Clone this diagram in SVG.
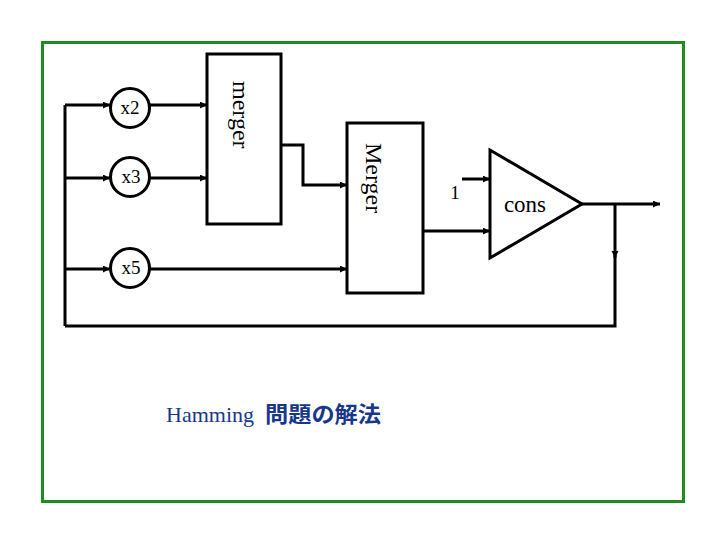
<svg xmlns="http://www.w3.org/2000/svg" width="720" height="540" viewBox="0 0 720 540">
<style>
.ln{fill:none;stroke:#000;stroke-width:3}
.box{fill:#fff;stroke:#000;stroke-width:3}
.t{font-family:"Liberation Serif","Times New Roman",serif;fill:#000}
</style>
<defs>
<marker id="ah" markerUnits="userSpaceOnUse" markerWidth="8" markerHeight="8" refX="7" refY="3.5" orient="auto">
<path d="M0,0 L7,3.5 L0,7 z" fill="#000"/>
</marker>
</defs>
<rect x="0" y="0" width="720" height="540" fill="#fff"/>
<rect x="42.5" y="42.5" width="641" height="459" fill="none" stroke="#1e8c1e" stroke-width="3"/>
<g id="connectors">
<path class="ln" d="M65,326 V105"/>
<path class="ln" d="M65,105 H110" marker-end="url(#ah)"/>
<path class="ln" d="M150,105 H207" marker-end="url(#ah)"/>
<path class="ln" d="M65,178 H110" marker-end="url(#ah)"/>
<path class="ln" d="M150,178 H207" marker-end="url(#ah)"/>
<path class="ln" d="M65,269 H110" marker-end="url(#ah)"/>
<path class="ln" d="M150,269 H347" marker-end="url(#ah)"/>
<path class="ln" d="M281,145 H303 V185 H347" marker-end="url(#ah)"/>
<path class="ln" d="M423,231 H490" marker-end="url(#ah)"/>
<path class="ln" d="M462,179 H490" marker-end="url(#ah)"/>
<path class="ln" d="M582,204 H660" marker-end="url(#ah)"/>
<path class="ln" d="M615,204 V258" marker-end="url(#ah)"/>
<path class="ln" d="M615,255 V326 H65"/>
</g>
<g id="x2">
<circle class="box" cx="130" cy="108" r="19.5"/>
<text class="t" x="130" y="114" font-size="19" text-anchor="middle">x2</text>
</g>
<g id="x3">
<circle class="box" cx="130" cy="177" r="19.5"/>
<text class="t" x="131" y="183" font-size="19" text-anchor="middle">x3</text>
</g>
<g id="x5">
<circle class="box" cx="130" cy="268" r="19.5"/>
<text class="t" x="131" y="274" font-size="19" text-anchor="middle">x5</text>
</g>
<g id="merger">
<rect class="box" x="207" y="54" width="74" height="170"/>
<text class="t" font-size="24" transform="translate(233,81) rotate(90)">merger</text>
</g>
<g id="Merger">
<rect class="box" x="347" y="123" width="76" height="170"/>
<text class="t" font-size="24" transform="translate(366,143) rotate(90)">Merger</text>
</g>
<g id="cons">
<polygon class="box" points="490,150 490,258 582,204"/>
<text class="t" x="525" y="212" font-size="23" text-anchor="middle">cons</text>
</g>
<g id="label1">
<text class="t" x="455" y="199" font-size="19" text-anchor="middle">1</text>
</g>
<g id="title">
<text x="166" y="422" font-size="22" font-family="'Liberation Serif','Times New Roman',serif" fill="#17388a">Hamming</text>
<text x="265" y="422" font-size="22" font-family="'Noto Sans CJK JP','Noto Sans CJK SC',sans-serif" font-weight="bold" fill="#17388a" textLength="116" lengthAdjust="spacingAndGlyphs">問題の解法</text>
</g>
</svg>
